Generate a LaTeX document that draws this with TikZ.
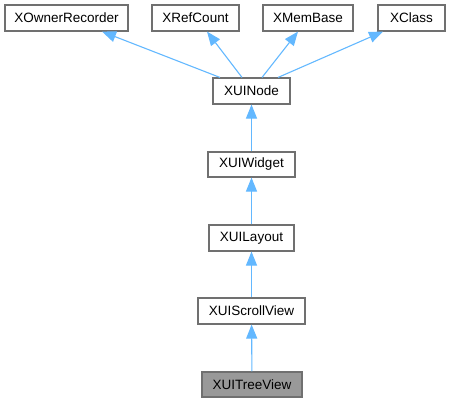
\documentclass[tikz,border=0pt]{standalone}
\usepackage{fontspec}
\setmainfont{Liberation Sans}
\usetikzlibrary{arrows.meta,calc}
\definecolor{edgeblue}{HTML}{63B8FF}
\definecolor{boxborder}{HTML}{707070}
\definecolor{curfill}{HTML}{999999}
\begin{document}
\begin{tikzpicture}[x=1bp,y=-1bp,
  cls/.style={draw=boxborder,line width=1.1bp,fill=white,minimum height=26bp,inner sep=0pt,
    font=\fontsize{13.5bp}{16bp}\selectfont,text=black},
  cur/.style={cls,fill=curfill},
  inh/.style={draw=edgeblue,line width=1.1bp,-{Triangle[length=14bp,width=11bp]}}]
\useasboundingbox (0,0) rectangle (450,403);
\node[cls,minimum width=123bp] (own) at (66.5,18) {XOwnerRecorder};
\node[cls,minimum width=87bp] (ref) at (195.5,18) {XRefCount};
\node[cls,minimum width=90bp] (mem) at (308,18) {XMemBase};
\node[cls,minimum width=67bp] (xcl) at (411.5,18) {XClass};
\node[cls,minimum width=77bp] (node) at (251.5,91) {XUINode};
\node[cls,minimum width=87bp,minimum height=25bp] (wid) at (251.5,164.5) {XUIWidget};
\node[cls,minimum width=85bp] (lay) at (251.5,238) {XUILayout};
\node[cls,minimum width=107bp] (scr) at (251.5,311) {XUIScrollView};
\node[cur,minimum width=100bp,minimum height=25bp] (tree) at (252,384.5) {XUITreeView};
\coordinate (s1) at ($(node.north)+(-31.5,0)$);
\coordinate (s2) at ($(node.north)+(-9.5,0)$);
\coordinate (s3) at ($(node.north)+(10.5,0)$);
\coordinate (s4) at ($(node.north)+(26.5,0)$);
\coordinate (e1) at ($(own.south)+(35.5,0)$);
\coordinate (e2) at ($(ref.south)+(11.5,0)$);
\coordinate (e3) at ($(mem.south)+(-10,0)$);
\coordinate (e4) at ($(xcl.south)+(-28.5,0)$);
\draw[inh] (s1) -- (e1);
\draw[inh] (s2) -- (e2);
\draw[inh] (s3) -- (e3);
\draw[inh] (s4) -- (e4);
\draw[inh] (wid) -- (node);
\draw[inh] (lay) -- (wid);
\draw[inh] (scr) -- (lay);
\draw[inh] (tree) -- (scr);
\end{tikzpicture}
\end{document}
